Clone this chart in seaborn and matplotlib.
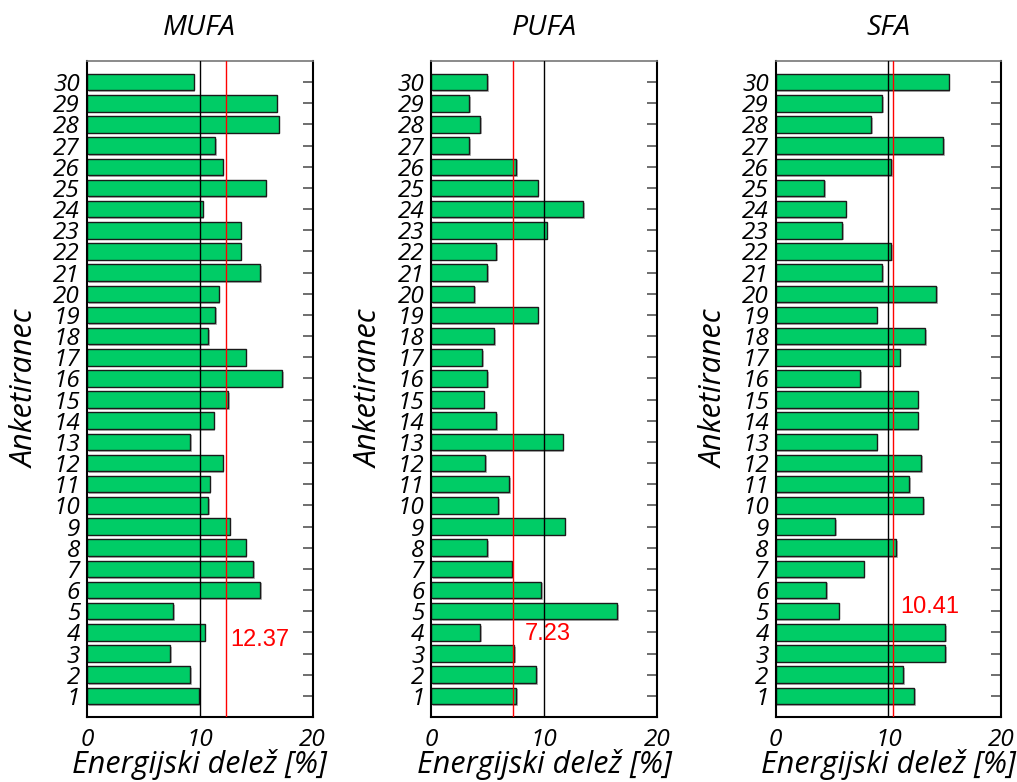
import matplotlib
matplotlib.use("Agg")
import matplotlib.pyplot as plt
import matplotlib.patheffects as pe
import seaborn as sns
import numpy as np
import pandas as pd

# ---- data ----
respondents = list(range(1, 31))
panel_titles = ["MUFA", "PUFA", "SFA"]
mufa = [9.93, 9.13, 7.38, 10.43, 7.67, 15.38, 14.73, 14.07, 12.65, 10.73,
        10.87, 12.03, 9.13, 11.23, 12.50, 17.30, 14.07, 10.73, 11.38, 11.67,
        15.35, 13.63, 13.63, 10.25, 15.85, 12.03, 11.38, 16.99, 16.83, 9.45]
pufa = [7.54, 9.29, 7.37, 4.32, 16.48, 9.76, 7.16, 4.97, 11.84, 5.95,
        6.89, 4.79, 11.66, 5.77, 4.65, 4.97, 4.50, 5.59, 9.44, 3.82,
        4.97, 5.77, 10.24, 13.46, 9.44, 7.54, 3.37, 4.32, 3.37, 4.97]
sfa = [12.30, 11.32, 15.05, 15.05, 5.59, 4.49, 7.81, 10.70, 5.29, 13.10,
       11.83, 12.92, 8.96, 12.60, 12.60, 7.51, 11.00, 13.27, 8.96, 14.25,
       9.43, 10.23, 5.91, 6.21, 4.31, 10.23, 14.87, 8.49, 9.43, 15.35]
means = [12.37, 7.23, 10.41]
mean_labels = ["12.37", "7.23", "10.41"]
x_ticks = [0, 10, 20]
reference_line = 10
x_label = "Energijski delež [%]"
y_label = "Anketiranec"

series = [mufa, pufa, sfa]

# ---- style ----
sns.set_style("white")
plt.rcParams["font.family"] = ["Open Sans", "DejaVu Sans"]
plt.rcParams["text.color"] = "black"
plt.rcParams["xtick.color"] = "black"
plt.rcParams["ytick.color"] = "black"
plt.rcParams["axes.labelcolor"] = "black"

W, H = 1017, 782
fig = plt.figure(figsize=(W / 100, H / 100), dpi=100)

ax_lefts = [87, 431.3, 775.7]
ax_w = 225.5
ax_bottom = 782 - 717
ax_h = 656

# annotation positions (data coords) for the mean labels
text_pos = [(12.71, 3.64), (8.31, 3.92), (11.03, 5.21)]

for i, (title, vals) in enumerate(zip(panel_titles, series)):
    ax = fig.add_axes([ax_lefts[i] / W, ax_bottom / H, ax_w / W, ax_h / H])
    df = pd.DataFrame({"id": respondents, "val": vals})
    sns.barplot(data=df, x="val", y="id", orient="h", native_scale=True,
                width=0.78, color="#00CC66", edgecolor="#1a1a1a",
                linewidth=1.0, saturation=1, ax=ax, zorder=2)
    for p in ax.patches:
        p.set_path_effects([pe.SimplePatchShadow(offset=(1.2, -1.2),
                                                 shadow_rgbFace="#888888",
                                                 alpha=0.6),
                            pe.Normal()])
    ax.axvline(reference_line, color="black", lw=1.0, zorder=3)
    ax.axvline(means[i], color="red", lw=1.0, zorder=3)
    ax.text(text_pos[i][0], text_pos[i][1], mean_labels[i], color="red",
            fontsize=17, family=["Liberation Sans", "DejaVu Sans"],
            ha="left", va="center", zorder=4)

    ax.set_xlim(0, 20)
    ax.set_ylim(0, 31)
    ax.set_xticks(x_ticks)
    ax.set_xticklabels([str(t) for t in x_ticks], fontsize=17.5,
                       style="italic")
    ax.set_yticks(respondents)
    ax.set_yticklabels([str(r) for r in respondents], fontsize=17.5,
                       style="italic")
    ax.tick_params(axis="y", left=False, right=True, labelleft=True,
                   labelright=False, direction="in", length=7, width=1.2,
                   color="#555555", pad=5)
    ax.tick_params(axis="x", length=0, pad=8)
    ax.set_xlabel(x_label, fontsize=22, style="italic", labelpad=-2)
    ax.set_ylabel(y_label, fontsize=22, style="italic", labelpad=9)
    ax.set_title(title, fontsize=20.5, style="italic", pad=19)
    for s in ["left", "bottom", "right"]:
        ax.spines[s].set_color("black")
        ax.spines[s].set_linewidth(1.5)
    ax.spines["top"].set_color("#777777")
    ax.spines["top"].set_linewidth(1.2)
    ax.grid(False)

fig.savefig("out.png", dpi=100)
